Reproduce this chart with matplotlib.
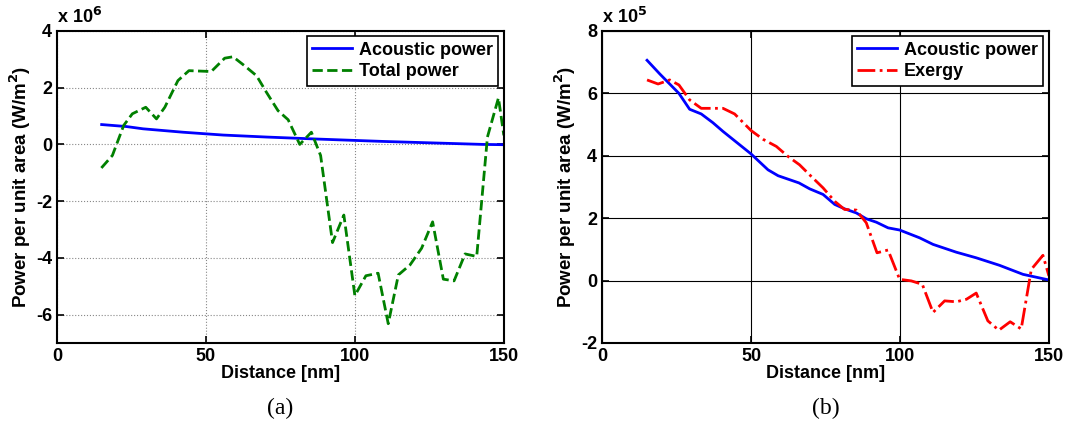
import matplotlib
matplotlib.use('Agg')
import matplotlib.pyplot as plt

plt.rcParams['font.family'] = ['Liberation Sans', 'DejaVu Sans']
plt.rcParams['font.weight'] = 'bold'
plt.rcParams['axes.unicode_minus'] = False

# (a) values in units of 1e6 W/m^2
dist_tot = [14.9, 18.6, 22.4, 25.3, 29.8, 33.4, 36.2, 40.6, 44.3, 51.8, 56.3, 59.1,
            63.0, 67.0, 70.3, 74.2, 77.6, 81.5, 85.4, 88.5, 92.5, 96.3, 100.0, 103.7,
            107.8, 111.2, 114.6, 118.5, 122.4, 126.1, 129.7, 133.3, 137.0, 140.9,
            144.5, 148.2, 150.0]
total_power = [-0.83, -0.39, 0.67, 1.08, 1.31, 0.90, 1.31, 2.25, 2.60, 2.57, 3.04, 3.09,
               2.77, 2.42, 1.84, 1.19, 0.87, 0.0, 0.43, -0.39, -3.46, -2.49, -5.33, -4.63,
               -4.54, -6.32, -4.60, -4.25, -3.66, -2.73, -4.75, -4.81, -3.86, -3.95,
               0.26, 1.64, 0.32]
dist_ac_a = [15, 23.3, 28.9, 42.3, 55.8, 70.3, 87.1, 109.5, 131.9, 143, 150]
acoustic_a = [0.70, 0.63, 0.55, 0.43, 0.33, 0.26, 0.19, 0.105, 0.035, 0.0, -0.01]

# (b) values in units of 1e5 W/m^2
dist_ac_b = [15.1, 19.4, 25.8, 29.4, 33.3, 37.2, 40.6, 50.0, 55.7, 59.1, 66.1, 69.7,
             74.2, 78.1, 81.4, 85.3, 88.7, 92.1, 96.0, 99.9, 106.6, 111.1, 118.9, 125.6,
             133.4, 141.3, 150.0]
acoustic_b = [7.06, 6.62, 6.0, 5.49, 5.34, 5.06, 4.78, 4.06, 3.55, 3.36, 3.13, 2.94,
              2.76, 2.44, 2.30, 2.17, 1.98, 1.87, 1.69, 1.62, 1.37, 1.16, 0.91, 0.73,
              0.49, 0.20, 0.02]
dist_ex = [15.1, 18.8, 22.7, 25.8, 29.4, 33.3, 37.2, 40.6, 44.5, 50.0, 54.0, 58.5,
           62.4, 66.3, 70.2, 74.2, 78.1, 81.4, 85.3, 88.7, 92.3, 96.0, 99.9, 103.8,
           107.5, 111.1, 115.0, 118.9, 122.3, 125.6, 129.5, 133.2, 137.0, 140.7,
           144.1, 148.0, 150.0]
exergy = [6.43, 6.30, 6.43, 6.27, 5.79, 5.52, 5.52, 5.52, 5.34, 4.81, 4.53, 4.30,
          3.98, 3.71, 3.34, 2.97, 2.54, 2.28, 2.26, 1.85, 0.89, 0.98, 0.04, -0.01,
          -0.12, -1.02, -0.65, -0.68, -0.60, -0.40, -1.29, -1.59, -1.32, -1.55,
          0.36, 0.81, 0.15]

fig = plt.figure(figsize=(10.69, 4.34), dpi=100)
ax1 = fig.add_axes([0.0533, 0.2097, 0.418, 0.719])
ax2 = fig.add_axes([0.5632, 0.2097, 0.418, 0.719])

ax1.plot(dist_ac_a, acoustic_a, color='b', lw=2, label='Acoustic power')
ax1.plot(dist_tot, total_power, color='#008000', lw=2, ls='--', label='Total power')
ax1.set_ylim(-7, 4)
ax1.set_yticks([-6, -4, -2, 0, 2, 4])
ax1.grid(True, ls=':', color='#888888', lw=0.8)
ax1.text(0.0, 1.012, r'x 10$^{\mathbf{6}}$', transform=ax1.transAxes, fontsize=13,
         fontweight='bold', va='bottom', ha='left')

ax2.plot(dist_ac_b, acoustic_b, color='b', lw=2, label='Acoustic power')
ax2.plot(dist_ex, exergy, color='r', lw=2, ls='-.', label='Exergy')
ax2.set_ylim(-2, 8)
ax2.set_yticks([-2, 0, 2, 4, 6, 8])
ax2.grid(True, ls='-', color='k', lw=0.8)
ax2.text(0.0, 1.012, r'x 10$^{\mathbf{5}}$', transform=ax2.transAxes, fontsize=13,
         fontweight='bold', va='bottom', ha='left')

for ax, tag in ((ax1, '(a)'), (ax2, '(b)')):
    ax.set_xlim(0, 150)
    ax.set_xticks([0, 50, 100, 150])
    ax.tick_params(direction='in', labelsize=13, width=1.2, length=5, top=True, right=True)
    for lab in ax.get_xticklabels() + ax.get_yticklabels():
        lab.set_fontweight('bold')
    for s in ax.spines.values():
        s.set_linewidth(1.5)
    ax.set_xlabel('Distance [nm]', fontsize=13, fontweight='bold', labelpad=0)
    ax.set_ylabel(r'Power per unit area (W/m$^{\mathbf{2}}$)', fontsize=13.5,
                  fontweight='bold', labelpad=2)
    leg = ax.legend(loc='upper right', fontsize=13, fancybox=False, framealpha=1,
                    edgecolor='k', borderaxespad=0.3, handlelength=2.2,
                    borderpad=0.3, labelspacing=0.25, handletextpad=0.4)
    leg.get_frame().set_linewidth(1.2)
    ax.text(0.5, -0.175, tag, transform=ax.transAxes, ha='center', va='top',
            fontsize=17, family='Liberation Serif', fontweight='normal')

fig.savefig('out.png', dpi=100)
